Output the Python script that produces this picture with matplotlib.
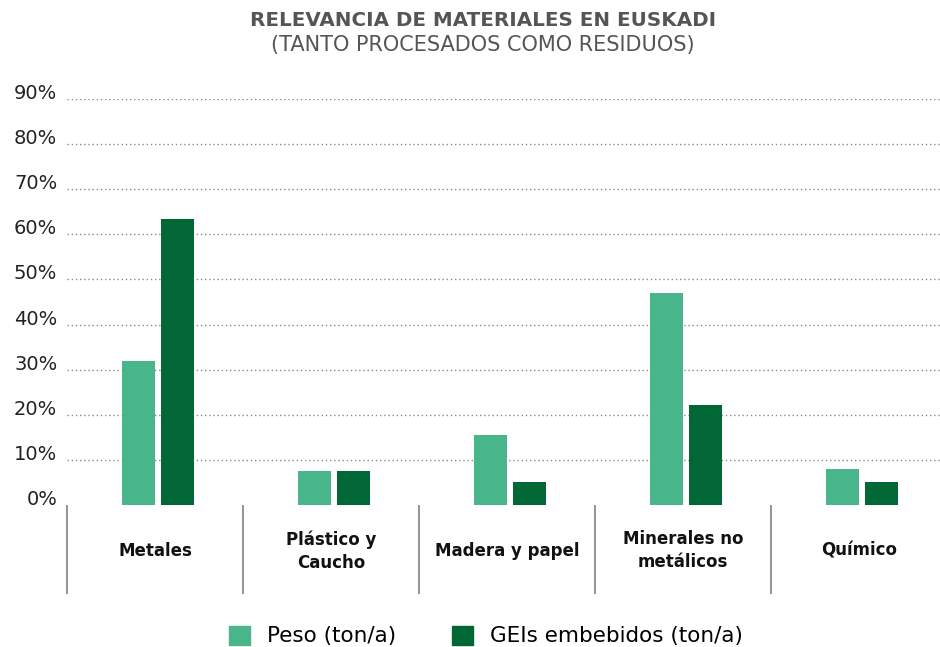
import matplotlib.pyplot as plt
from matplotlib.patches import Patch
import numpy as np

categorias = ['Metales', 'Plástico y\nCaucho', 'Madera y papel', 'Minerales no\nmetálicos', 'Químico']
peso = [32, 7.5, 15.5, 47, 8]
geis = [63.5, 7.5, 5.2, 22.2, 5.2]
ticks_y = [10, 20, 30, 40, 50, 60, 70, 80, 90]

c_peso = '#48B58A'
c_geis = '#016734'
fuente = 'DejaVu Sans'

fig = plt.figure(figsize=(9.40, 6.47), dpi=100)
ax = fig.add_axes([67/940, 142/647, 873/940, 406/647])

x = np.arange(len(categorias))
ancho = 0.1875
ax.bar(x - 0.095, peso, ancho, color=c_peso, zorder=3)
ax.bar(x + 0.13, geis, ancho, color=c_geis, zorder=3)

ax.set_xlim(-0.5, 4.46)
ax.set_ylim(0, 90)
for s in ax.spines.values():
    s.set_visible(False)

# rejilla punteada
for v in ticks_y:
    ax.axhline(v, color='#8a8a8a', lw=1, ls=(0, (1, 2)), zorder=1)

# etiquetas eje y
ax.set_yticks([0] + ticks_y)
ax.set_yticklabels([f'{v}%' for v in [0] + ticks_y], fontsize=14,
                   color='#222222', family=fuente)
for lab in ax.get_yticklabels():
    lab.set_verticalalignment('baseline')
ax.tick_params(axis='y', length=0, pad=7)

# separadores entre categorias
ax.set_xticks(x - 0.5, minor=True)
ax.set_xticks([])
ax.tick_params(axis='x', which='minor', length=64, width=1.3, color='#8a8a8a')

# nombres de categorias
for xi, nombre in zip(x, categorias):
    ax.text(xi, -0.113, nombre, transform=ax.get_xaxis_transform(),
            ha='center', va='center', fontsize=12, fontweight='bold',
            color='#111111', family=fuente, linespacing=1.35)

fig.text(0.514, 0.968, 'RELEVANCIA DE MATERIALES EN EUSKADI', ha='center', va='center',
         fontsize=14.3, fontweight='bold', color='#555555', family=fuente)
fig.text(0.514, 0.931, '(TANTO PROCESADOS COMO RESIDUOS)', ha='center', va='center',
         fontsize=15, color='#555555', family=fuente)

handles = [Patch(color=c_peso, label='Peso (ton/a)'),
           Patch(color=c_geis, label='GEIs embebidos (ton/a)')]
fig.legend(handles=handles, loc='center', bbox_to_anchor=(0.517, 0.017), ncol=2,
           frameon=False, prop={'family': fuente, 'size': 15.5},
           handlelength=0.98, handleheight=0.98, handletextpad=0.79, columnspacing=2.6)

fig.savefig('out.png', dpi=100)
